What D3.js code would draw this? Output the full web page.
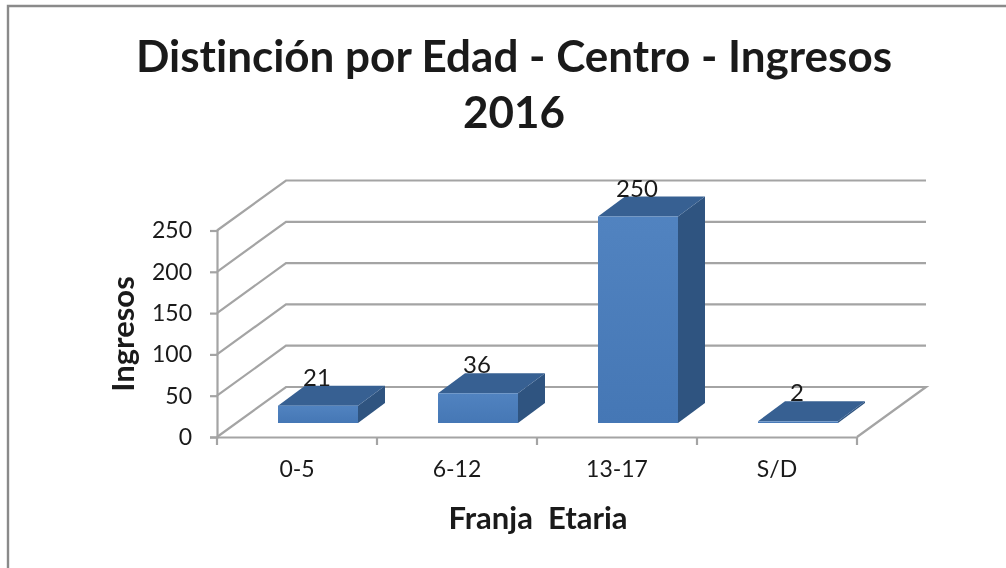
<!DOCTYPE html>
<html><head><meta charset="utf-8">
<script src="https://cdn.jsdelivr.net/npm/d3@7"></script>
<style>
html,body{margin:0;padding:0;background:#fff;overflow:hidden}
svg{display:block;filter:blur(0.6px)}
text{font-family:Lato,"Open Sans",sans-serif;fill:#1a1a1a;font-variant-ligatures:none}
</style></head><body><div id="c"></div>
<script>
const categories = ["0-5","6-12","13-17","S/D"];
const values = [21,36,250,2];
const yTicks = [0,50,100,150,200,250];
const titleLines = ["Distinción por Edad - Centro - Ingresos","2016"];
const xTitle = "Franja  Etaria";
const yTitle = "Ingresos";

const W=1006,H=568;
const svg=d3.select("#c").append("svg").attr("width",W).attr("height",H);
const x=d3.scaleBand().domain(categories).range([217,857]).paddingInner(0).paddingOuter(0);
const y=d3.scaleLinear().domain([0,250]).range([437,230.5]);
const floorDx=69,floorDy=-50;     // wall depth
const barDx=27,barDy=-20;         // bar depth
const barW=80,barFx=21,barFy=-14; // bar position on floor
const grid="#a4a4a4";

// frame
svg.append("path").attr("d",`M8,${H}V6H${W}`).attr("fill","none").attr("stroke","#8a8a8a").attr("stroke-width",2.4);

// gridlines on the walls
const right=x.range()[1];
svg.selectAll("path.grid").data(yTicks).join("path").attr("class","grid")
  .attr("fill","none").attr("stroke",grid).attr("stroke-width",2.2)
  .attr("d",d=>{
    const back=y(d)+floorDy;
    return d===0
      ? `M217,${y(0)}L${217+floorDx},${back}H${right+floorDx}L${right},${y(0)}`
      : `M217,${y(d)}L${217+floorDx},${back}H${right+floorDx}`;
  });

// axes
const yAxis=d3.axisLeft(y).tickValues(yTicks).tickSize(7).tickPadding(18);
const gy=svg.append("g").attr("transform","translate(217,0)").call(yAxis);
const xAxis=d3.axisBottom(x).tickSize(0).tickPadding(24);
const gx=svg.append("g").attr("transform",`translate(0,${y(0)})`).call(xAxis);
[gy,gx].forEach(g=>{g.selectAll("path.domain").attr("stroke",grid).attr("stroke-width",2.2);
  g.selectAll("line").attr("stroke",grid).attr("stroke-width",2.2);
  g.selectAll("text").style("font-size","23px").style("font-family","Lato").attr("fill","#222");});
svg.selectAll("line.xt").data(d3.range(categories.length+1)).join("line").attr("class","xt")
  .attr("x1",i=>x.range()[0]+i*x.step()).attr("x2",i=>x.range()[0]+i*x.step())
  .attr("y1",y(0)).attr("y2",y(0)+8).attr("stroke",grid).attr("stroke-width",2.2);

// gradient for bar faces
const defs=svg.append("defs");
const g=defs.append("linearGradient").attr("id","front").attr("x1",0).attr("x2",0).attr("y1",0).attr("y2",1);
g.append("stop").attr("offset","0").attr("stop-color","#5183c0");
g.append("stop").attr("offset","1").attr("stop-color","#4577b5");

// bars
const bars=svg.selectAll("g.bar").data(categories.map((c,i)=>({c,v:values[i]}))).join("g").attr("class","bar");
const bx=d=>x(d.c)+(x.step()-barW)/2+barFx;
const by0=y(0)+barFy;
const h=d=>y(0)-y(d.v);
bars.append("path").attr("fill","#2f5480")
  .attr("d",d=>{const X=bx(d)+barW,T=by0-h(d);return `M${X},${T}l${barDx},${barDy}V${by0+barDy}L${X},${by0}Z`;});
bars.append("path").attr("fill","#376092")
  .attr("d",d=>{const X=bx(d),T=by0-h(d);return `M${X},${T}l${barDx},${barDy}h${barW}l${-barDx},${-barDy}Z`;});
bars.append("rect").attr("fill","url(#front)")
  .attr("x",bx).attr("y",d=>by0-h(d)).attr("width",barW).attr("height",d=>Math.max(h(d),1));

// value labels
bars.append("text").text(d=>d.v).attr("text-anchor","middle")
  .attr("x",d=>bx(d)+barW/2-1).attr("y",d=>by0-h(d)-20)
  .style("font-size","24px");

// titles
svg.selectAll("text.title").data(titleLines).join("text").attr("class","title")
  .attr("text-anchor","middle").attr("x",514).attr("y",(d,i)=>72+i*56)
  .style("font-size","44px").style("font-weight","700").attr("fill","#111").text(d=>d);
svg.append("text").attr("text-anchor","middle").attr("x",538).attr("y",529)
  .style("font-size","31px").style("font-weight","700").style("white-space","pre").text(xTitle);
svg.append("text").attr("text-anchor","middle").attr("transform","translate(134,334) rotate(-90)")
  .style("font-size","31px").style("font-weight","700").text(yTitle);
</script></body></html>
